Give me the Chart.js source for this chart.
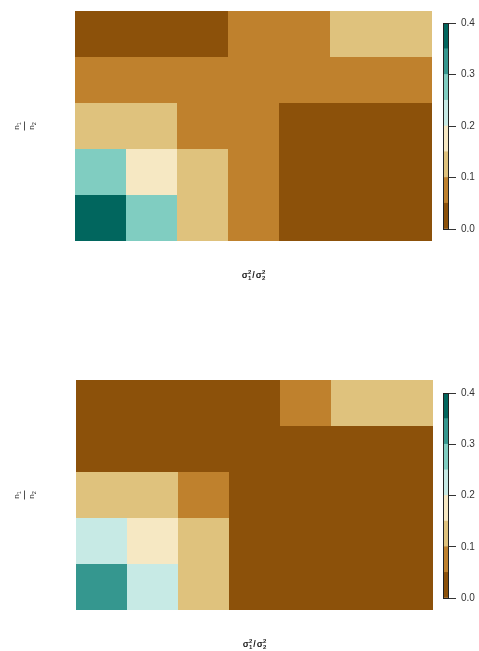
<!DOCTYPE html>
<html>
<head>
<meta charset="utf-8">
<script src="https://cdn.jsdelivr.net/npm/chart.js@4/dist/chart.umd.min.js"></script>
<style>
  html, body { margin: 0; padding: 0; background: #fff; }
  body { width: 479px; height: 651px; position: relative; overflow: hidden; }
  canvas { position: absolute; }
</style>
</head>
<body>
<canvas id="heatTop" width="479" height="325" style="left:0;top:0"></canvas>
<canvas id="barTop" width="49" height="325" style="left:430px;top:0"></canvas>
<canvas id="heatBottom" width="479" height="326" style="left:0;top:325px"></canvas>
<canvas id="barBottom" width="49" height="326" style="left:430px;top:325px"></canvas>
<script>
// Grid categories: variance-ratio columns (left to right) and sample-size-ratio rows (bottom to top)
const varianceCols = ['v1', 'v2', 'v3', 'v4', 'v5', 'v6', 'v7'];
const sizeRows = ['s1', 's2', 's3', 's4', 's5'];

// Colour scale: bin edges and BrBG colours
const binEdges = [0, 0.05, 0.10, 0.15, 0.20, 0.25, 0.30, 0.35, 0.40];
const binColors = ['#8C510A', '#BF812D', '#DFC27D', '#F6E8C3', '#C7EAE5', '#80CDC1', '#35978F', '#01665E'];
const colorbarTicks = [0, 0.1, 0.2, 0.3, 0.4];

// Upper panel values, one array per row (bottom row first)
const topRow1 = [0.37, 0.27, 0.12, 0.07, 0.03, 0.02, 0.01];
const topRow2 = [0.28, 0.17, 0.13, 0.08, 0.04, 0.03, 0.02];
const topRow3 = [0.14, 0.11, 0.09, 0.06, 0.04, 0.03, 0.02];
const topRow4 = [0.09, 0.08, 0.07, 0.06, 0.06, 0.07, 0.08];
const topRow5 = [0.04, 0.03, 0.04, 0.06, 0.09, 0.12, 0.14];

// Lower panel values, one array per row (bottom row first)
const bottomRow1 = [0.32, 0.22, 0.11, 0.04, 0.02, 0.01, 0.01];
const bottomRow2 = [0.23, 0.16, 0.11, 0.03, 0.02, 0.01, 0.01];
const bottomRow3 = [0.12, 0.10, 0.06, 0.03, 0.02, 0.01, 0.01];
const bottomRow4 = [0.03, 0.02, 0.02, 0.02, 0.03, 0.04, 0.04];
const bottomRow5 = [0.01, 0.02, 0.03, 0.04, 0.07, 0.11, 0.13];

const FONT = '"Liberation Sans", Arial, sans-serif';

function colorFor(v) {
  for (let i = 0; i < binColors.length; i++) {
    if (v < binEdges[i + 1]) return binColors[i];
  }
  return binColors[binColors.length - 1];
}

// Axis titles drawn as plot-math style text
const axisTitles = {
  id: 'axisTitles',
  afterDraw(chart, args, opts) {
    const ctx = chart.ctx;
    const a = chart.chartArea;
    ctx.save();
    ctx.fillStyle = '#222';
    ctx.textBaseline = 'alphabetic';
    ctx.textAlign = 'left';

    // x title: sigma_1^2 / sigma_2^2
    const big = 'bold 9px ' + FONT;
    const small = 'bold 6px ' + FONT;
    ctx.font = big;
    const wS = ctx.measureText('σ').width;
    const wSl = ctx.measureText('/').width;
    ctx.font = small;
    const wI = ctx.measureText('2').width;
    const total = wS + wI + 1 + wSl + 1 + wS + wI;
    let x = (a.left + a.right) / 2 - total / 2;
    const y = a.bottom + opts.xOffset;
    const sig = (sub) => {
      ctx.font = big; ctx.fillText('σ', x, y); x += wS;
      ctx.font = small; ctx.fillText('2', x, y - 4); ctx.fillText(sub, x, y + 2); x += wI;
    };
    sig('1');
    x += 1;
    ctx.font = big; ctx.fillText('/', x, y); x += wSl + 1;
    sig('2');

    // y title: fraction n_1 over n_2, rotated
    ctx.translate(opts.yCenterX, (a.top + a.bottom) / 2);
    ctx.rotate(-Math.PI / 2);
    const drawN = (sub, cy) => {
      ctx.font = '8px ' + FONT;
      const wn = ctx.measureText('n').width;
      ctx.font = '5.5px ' + FONT;
      const ws = ctx.measureText(sub).width;
      const start = -(wn + ws) / 2;
      ctx.font = '8px ' + FONT;
      ctx.fillText('n', start, cy);
      ctx.font = '5.5px ' + FONT;
      ctx.fillText(sub, start + wn, cy + 2);
    };
    drawN('1', -5);
    ctx.fillRect(-4.5, 0, 9, 0.8);
    drawN('2', 10);
    ctx.restore();
  }
};

// Frame round the colour bar
const barFrame = {
  id: 'barFrame',
  afterDatasetsDraw(chart) {
    const a = chart.chartArea;
    const ctx = chart.ctx;
    ctx.save();
    ctx.strokeStyle = '#222';
    ctx.lineWidth = 1;
    ctx.strokeRect(Math.round(a.left) + 0.5, Math.round(a.top) + 0.5,
                   Math.round(a.right - a.left) - 1, Math.round(a.bottom - a.top));
    ctx.restore();
  }
};

function heatmap(id, rows, pad) {
  return new Chart(document.getElementById(id), {
    type: 'bar',
    data: {
      labels: varianceCols,
      datasets: rows.map((vals, r) => ({
        label: sizeRows[r],
        data: vals.map(() => [r, r + 1]),
        backgroundColor: vals.map(colorFor),
        borderWidth: 0,
        inflateAmount: 0,
        grouped: false,
        barPercentage: 1,
        categoryPercentage: 1
      }))
    },
    options: {
      responsive: false,
      animation: false,
      devicePixelRatio: 1,
      layout: { padding: pad },
      scales: {
        x: { display: false },
        y: { display: false, min: 0, max: sizeRows.length }
      },
      plugins: {
        legend: { display: false },
        tooltip: { enabled: false },
        axisTitles: { xOffset: 37, yCenterX: 24 }
      }
    },
    plugins: [axisTitles]
  });
}

function colorbar(id, pad) {
  return new Chart(document.getElementById(id), {
    type: 'bar',
    data: {
      labels: ['scale'],
      datasets: binColors.map((c, i) => ({
        data: [[binEdges[i], binEdges[i + 1]]],
        backgroundColor: c,
        borderWidth: 0,
        grouped: false,
        barPercentage: 1,
        categoryPercentage: 1
      }))
    },
    options: {
      responsive: false,
      animation: false,
      devicePixelRatio: 1,
      layout: { padding: pad },
      scales: {
        x: { display: false },
        y: {
          position: 'right',
          min: binEdges[0],
          max: binEdges[binEdges.length - 1],
          afterBuildTicks: s => { s.ticks = colorbarTicks.map(v => ({ value: v })); },
          afterFit: s => { s.width = 30; },
          ticks: {
            callback: v => Number(v).toFixed(1),
            color: '#333',
            font: { family: FONT, size: 10 },
            padding: 5
          },
          grid: { drawOnChartArea: false, tickLength: 7, color: '#333' },
          border: { display: false }
        }
      },
      plugins: { legend: { display: false }, tooltip: { enabled: false } }
    },
    plugins: [barFrame]
  });
}

// Plot areas: 357 x 230 px, so every cell is exactly 51 x 46 px
heatmap('heatTop', [topRow1, topRow2, topRow3, topRow4, topRow5],
        { left: 75, right: 47, top: 11, bottom: 84 });
colorbar('barTop', { left: 13, right: 0, top: 23, bottom: 96 });

heatmap('heatBottom', [bottomRow1, bottomRow2, bottomRow3, bottomRow4, bottomRow5],
        { left: 76, right: 46, top: 55, bottom: 41 });
colorbar('barBottom', { left: 13, right: 0, top: 68, bottom: 53 });
</script>
</body>
</html>
